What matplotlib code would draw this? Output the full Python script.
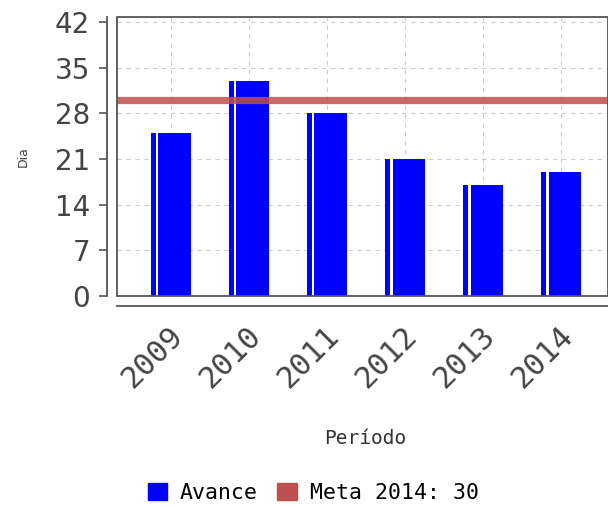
import matplotlib.pyplot as plt
from matplotlib.patches import Rectangle, Patch
from matplotlib.transforms import ScaledTranslation

periodos = ['2009', '2010', '2011', '2012', '2013', '2014']
avance = [25, 33, 28, 21, 17, 19]
meta = 30
meta_label = 'Meta 2014: 30'
y_ticks = [0, 7, 14, 21, 28, 35, 42]

fig = plt.figure(figsize=(6.08, 5.07), dpi=100)
ax = fig.add_axes([0.1924, 0.4162, 0.8076, 0.5503])

# spines first: set_position resets the ticks
for s in ['top', 'right']:
    ax.spines[s].set_visible(False)
for s in ['left', 'bottom']:
    ax.spines[s].set_position(('outward', 7.2))
    ax.spines[s].set_color('#555555')
    ax.spines[s].set_linewidth(1.3)

x = list(range(len(periodos)))
ax.bar(x, avance, width=0.51, color='#0000ff', zorder=3)
# thin white gap near the left edge of each bar
ax.bar([i - 0.175 for i in x], avance, width=0.03, color='white', zorder=4)

ax.axhline(meta, color='#c0504d', alpha=0.85, linewidth=5.2, zorder=5)

ax.set_xlim(-0.69, 5.6)
ax.set_ylim(0, 42.8)
ax.set_yticks(y_ticks)
ax.set_xticks(x)
ax.set_xticklabels(periodos, rotation=45, ha='right', va='center',
                   rotation_mode='anchor', fontsize=22,
                   family='DejaVu Sans Mono', color='#444444')
ax.tick_params(axis='y', labelsize=20, labelcolor='#444444', color='#555555',
               length=6, width=1.2, direction='out', pad=6)
ax.tick_params(axis='x', length=0, pad=18)
shift = ScaledTranslation(8 / 100, 0, fig.dpi_scale_trans)
for lab in ax.get_xticklabels():
    lab.set_transform(lab.get_transform() + shift)

ax.grid(True, linestyle=(0, (4, 4)), color='#cccccc', linewidth=0.8, zorder=0)

# plot frame
ax.add_patch(Rectangle((0, 0), 1, 1, transform=ax.transAxes, fill=False,
                       edgecolor='#555555', linewidth=1.3, clip_on=False, zorder=6))

ax.set_ylabel('Dia', fontsize=9, color='#444444')
ax.yaxis.set_label_coords(-0.178, 0.5)
ax.set_xlabel('Período', fontsize=14, color='#333333', family='DejaVu Sans Mono')
ax.xaxis.set_label_coords(0.505, -0.475)

handles = [Patch(facecolor='#0000ff', edgecolor='#0000ff'),
           Patch(facecolor='#c0504d', edgecolor='#c0504d')]
fig.legend(handles, ['Avance', meta_label], loc='center', ncol=2,
           bbox_to_anchor=(0.515, 0.028), frameon=False, handlelength=0.9,
           handleheight=0.9, handletextpad=0.6, columnspacing=0.9,
           prop={'family': 'DejaVu Sans Mono', 'size': 15.5})

fig.savefig('out.png', dpi=100)
